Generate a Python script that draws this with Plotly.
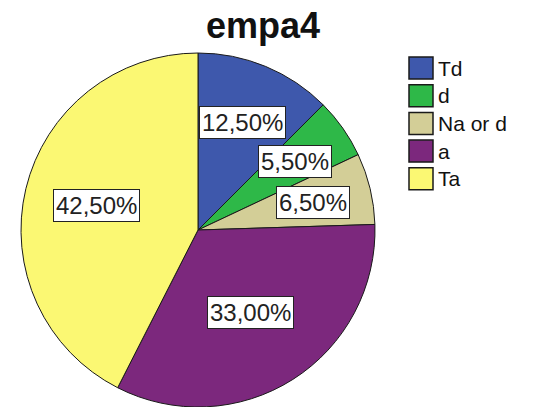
import math
import plotly.graph_objects as go

# Response categories for empa4 and their percentage shares
categories = ["Td", "d", "Na or d", "a", "Ta"]
percentages = [12.5, 5.5, 6.5, 33.0, 42.5]
colors = ["#3E58AC", "#2EB848", "#D3CE97", "#7C287D", "#FBF873"]

W, H = 533, 407
FONT = "Liberation Sans, Arial, sans-serif"

# Pie placement (pixels)
cx, cy, r = 198, 230, 177
label_depth = [0.66, 0.67, 0.67, 0.55, 0.59]

fig = go.Figure(go.Pie(
    labels=categories,
    values=percentages,
    sort=False,
    direction="clockwise",
    rotation=0,
    marker=dict(colors=colors, line=dict(color="#1a1a1a", width=1)),
    textinfo="none",
    hoverinfo="label+percent",
    showlegend=False,
    domain=dict(x=[(cx - r) / W, (cx + r) / W], y=[0, 2 * r / H]),
))

annotations = []
shapes = []

# Value labels boxed at each slice's mid-angle
total = sum(percentages)
cum = 0.0
for i, v in enumerate(percentages):
    mid = (cum + v / 2) / total * 2 * math.pi
    cum += v
    d = label_depth[i] * r
    px = cx + math.sin(mid) * d
    py = cy - math.cos(mid) * d
    annotations.append(dict(
        x=px / W, y=1 - py / H, xref="paper", yref="paper",
        text=f"{v:.2f}".replace(".", ",") + "%",
        showarrow=False,
        font=dict(family=FONT, size=24, color="#222"),
        bgcolor="white", bordercolor="#222", borderwidth=1, borderpad=2,
        xanchor="center", yanchor="middle",
    ))

# Legend: coloured swatches with category names
lx0, lx1, ly0, step, sh = 409, 433, 68, 27.7, 22
for i, (name, c) in enumerate(zip(categories, colors)):
    yc = ly0 + i * step
    shapes.append(dict(
        type="rect", xref="paper", yref="paper",
        x0=lx0 / W, x1=lx1 / W, y0=1 - (yc + sh / 2) / H, y1=1 - (yc - sh / 2) / H,
        fillcolor=c, line=dict(color="#1a1a1a", width=1.5),
    ))
    annotations.append(dict(
        x=(lx1 + 3) / W, y=1 - yc / H, xref="paper", yref="paper",
        text=name, showarrow=False,
        font=dict(family=FONT, size=21, color="#111"),
        xanchor="left", yanchor="middle",
    ))

fig.update_layout(
    width=W, height=H,
    margin=dict(l=0, r=0, t=0, b=0),
    paper_bgcolor="white", plot_bgcolor="white",
    title=dict(
        text="<b>empa4</b>", x=263 / W, xanchor="center",
        y=1 - 25 / H, yanchor="middle",
        font=dict(family=FONT, size=36, color="#111"),
    ),
    annotations=annotations,
    shapes=shapes,
)

fig.write_html("out.html")
